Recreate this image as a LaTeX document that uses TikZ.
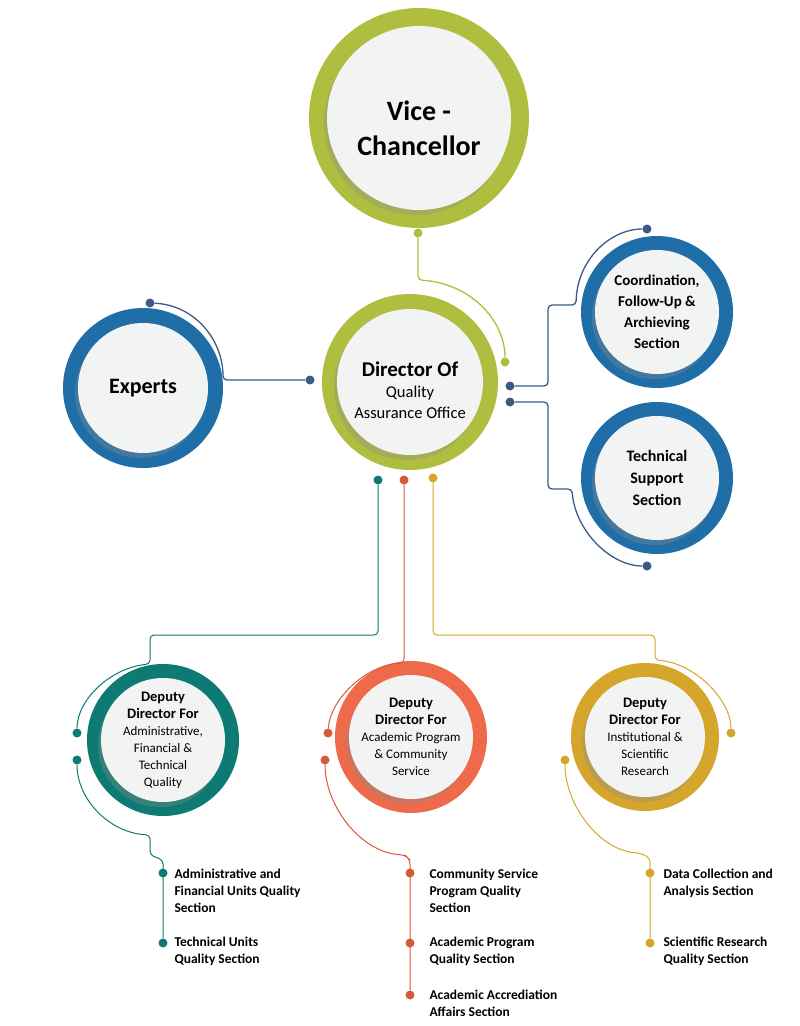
\documentclass[tikz,border=0pt]{standalone}
\usepackage{fontspec}
\setmainfont{Carlito}
\definecolor{cgreen}{HTML}{AFBE3F}
\definecolor{cblue}{HTML}{1F6EA8}
\definecolor{lblue}{HTML}{3B5A85}
\definecolor{cteal}{HTML}{0E7A74}
\definecolor{corange}{HTML}{EE6A4A}
\definecolor{lorange}{HTML}{D45A3C}
\definecolor{cgold}{HTML}{D6A62C}
\definecolor{cfill}{HTML}{F2F4F3}
\newcommand{\dpt}[1]{{\fontsize{14.5}{18}\selectfont\bfseries #1}}
\begin{document}
\begin{tikzpicture}[x=1pt,y=-1pt,
  dot/.style={circle,fill=#1,inner sep=0pt,minimum size=9pt},
  ln/.style={draw=#1,line width=1.3pt,rounded corners=4pt},
  bl/.style={anchor=west,align=left,font=\bfseries\fontsize{13.5}{17}\selectfont}]
\useasboundingbox (0,0) rectangle (800,1026);
\newcommand{\ringc}[6]{%
  \fill[#4] (#1,#2) circle (#3);
  \fill[black!45,opacity=0.35] (#1-3,#2+5) circle (#5);
  \node[circle,fill=cfill,minimum size=2*#5,inner sep=0pt,align=center] (#6) at (#1,#2) {};}
\ringc{419}{118}{110}{cgreen}{92}{vc}
\ringc{410}{382}{88}{cgreen}{73}{dir}
\ringc{143}{388}{80}{cblue}{65}{exp}
\ringc{657}{312}{76}{cblue}{62}{coo}
\ringc{657}{478}{76}{cblue}{62}{tec}
\ringc{163}{740}{76}{cteal}{62}{d1}
\ringc{411}{737}{76}{corange}{62}{d2}
\ringc{645}{737}{74}{cgold}{60}{d3}
\node[align=center,font=\bfseries\fontsize{28}{35}\selectfont] at ([yshift=-10pt]vc) {Vice -\\Chancellor};
\node[align=center,font=\fontsize{16.5}{21}\selectfont] at ([yshift=-8pt]dir) {{\bfseries\fontsize{21}{24}\selectfont Director Of}\\Quality\\Assurance Office};
\node[font=\bfseries\fontsize{22}{26}\selectfont] at (exp) {Experts};
\node[align=center,font=\bfseries\fontsize{15}{21}\selectfont] at (coo) {Coordination,\\Follow-Up \&\\Archieving\\Section};
\node[align=center,font=\bfseries\fontsize{16}{22}\selectfont] at (tec) {Technical\\Support\\Section};
\node[align=center,font=\fontsize{13}{17}\selectfont] at (d1) {\dpt{Deputy}\\\dpt{Director For}\\Administrative,\\Financial \&\\Technical\\Quality};
\node[align=center,font=\fontsize{13}{17}\selectfont] at (d2) {\dpt{Deputy}\\\dpt{Director For}\\Academic Program\\\& Community\\Service};
\node[align=center,font=\fontsize{13}{17}\selectfont] at (d3) {\dpt{Deputy}\\\dpt{Director For}\\Institutional \&\\Scientific\\Research};
\node[dot=cgreen] (g1) at (418,233) {}; \node[dot=cgreen] (g2) at (505,362) {};
\node[dot=lblue] (e1) at (150,303) {}; \node[dot=lblue] (e2) at (310,380) {};
\node[dot=lblue] (c1) at (510,386) {}; \node[dot=lblue] (c2) at (647,229) {};
\node[dot=lblue] (t1) at (510,402) {}; \node[dot=lblue] (t2) at (647,566) {};
\node[dot=cteal] (a0) at (378,480) {}; \node[dot=cteal] (a1) at (77,733) {}; \node[dot=cteal] (a2) at (77,760) {};
\node[dot=cteal] (a3) at (163,873) {}; \node[dot=cteal] (a4) at (163,943) {};
\node[dot=lorange] (b0) at (404,480) {}; \node[dot=lorange] (b1) at (328,733) {}; \node[dot=lorange] (b2) at (325,760) {};
\node[dot=lorange] (b3) at (410,873) {}; \node[dot=lorange] (b4) at (410,943) {}; \node[dot=lorange] (b5) at (410,995) {};
\node[dot=cgold] (h0) at (433,478) {}; \node[dot=cgold] (h1) at (731,733) {}; \node[dot=cgold] (h2) at (565,760) {};
\node[dot=cgold] (h3) at (650,873) {}; \node[dot=cgold] (h4) at (650,943) {};
\draw[ln=cgreen] (g1) -- (418,280) .. controls (470,283) and (505,320) .. (g2);
\draw[ln=lblue] (e1) .. controls (195,305) and (223,340) .. (223,380) -- (e2);
\draw[ln=lblue] (c1) -- (548,386) -- (548,305) -- (576,305) .. controls (577,260) and (610,229) .. (c2);
\draw[ln=lblue] (t1) -- (548,402) -- (548,489) -- (572,489) .. controls (575,530) and (610,566) .. (t2);
\draw[ln=cteal,line width=1pt] (a0) -- (378,635) -- (150,635) -- (150,664) .. controls (110,668) and (77,700) .. (a1);
\draw[ln=cteal,line width=1pt] (a2) .. controls (77,800) and (110,833) .. (150,835) -- (150,855) -- (163,860) -- (a4);
\draw[ln=lorange,line width=1pt] (b0) -- (404,663) .. controls (365,665) and (330,700) .. (b1);
\draw[ln=lorange,line width=1pt] (b2) .. controls (325,805) and (360,853) .. (405,855) -- (410,860) -- (b5);
\draw[ln=cgold,line width=1pt] (h0) -- (433,635) -- (655,635) -- (655,660) .. controls (695,663) and (731,700) .. (h1);
\draw[ln=cgold,line width=1pt] (h2) .. controls (565,805) and (600,851) .. (640,853) -- (650,858) -- (h4);
\node[bl,anchor=north west] at (171,865) {Administrative and\\Financial Units Quality\\Section};
\node[bl,anchor=north west] at (171,933) {Technical Units\\Quality Section};
\node[bl,anchor=north west] at (426,865) {Community Service\\Program Quality\\Section};
\node[bl,anchor=north west] at (426,933) {Academic Program\\Quality Section};
\node[bl,anchor=north west] at (426,986) {Academic Accrediation\\Affairs Section};
\node[bl,anchor=north west] at (660,865) {Data Collection and\\Analysis Section};
\node[bl,anchor=north west] at (660,933) {Scientific Research\\Quality Section};
\end{tikzpicture}
\end{document}
